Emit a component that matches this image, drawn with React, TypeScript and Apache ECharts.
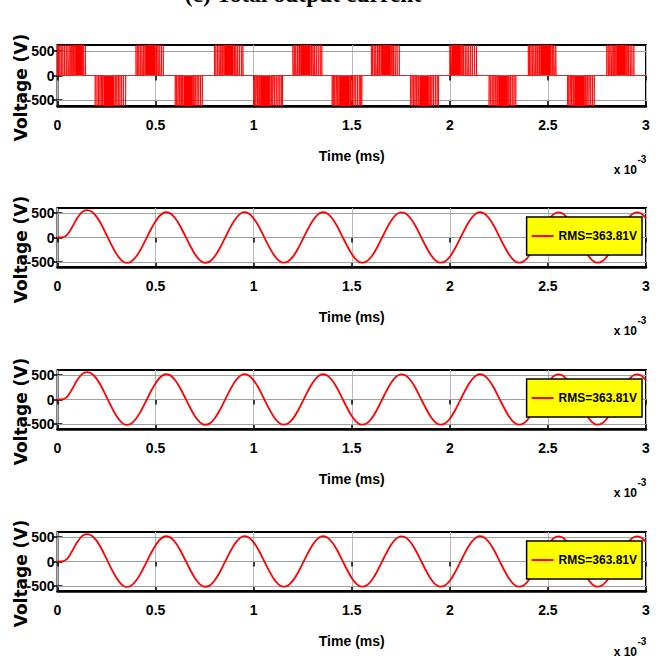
import React, { useEffect, useRef } from "react";
import * as echarts from "echarts";

// ---------- data ----------
const TITLE = "(c) Total output current";
const X_LABEL = "Time (ms)";
const Y_LABEL = "Voltage (V)";
const RMS_LABEL = "RMS=363.81V";
const X_MIN = 0;
const X_MAX = 3;
const X_INTERVAL = 0.5;
const Y_TICK_VALUES = [-500, 0, 500];
const PWM_AMPLITUDE_V = 620;

// positive switching pulses [start, end] in the time unit of the x axis
const POS_PULSES: [number, number][] = [
  [0.0, 0.002], [0.006, 0.007], [0.012, 0.013], [0.019, 0.02], [0.027, 0.028], [0.035, 0.037], [0.044, 0.046], [0.053, 0.056], [0.062, 0.066], [0.071, 0.076], [0.08, 0.086], [0.09, 0.128], [0.133, 0.135], [0.142, 0.144],
  [0.4, 0.401], [0.407, 0.408], [0.414, 0.416], [0.422, 0.424], [0.43, 0.433], [0.438, 0.442], [0.447, 0.498], [0.503, 0.507], [0.512, 0.515], [0.521, 0.523], [0.53, 0.531], [0.539, 0.54],
  [0.8, 0.801], [0.807, 0.808], [0.815, 0.817], [0.823, 0.826], [0.831, 0.835], [0.84, 0.845], [0.85, 0.895], [0.9, 0.904], [0.909, 0.912], [0.918, 0.92], [0.927, 0.928], [0.937, 0.938], [0.945, 0.946],
  [1.2, 1.202], [1.207, 1.209], [1.214, 1.217], [1.222, 1.226], [1.231, 1.236], [1.24, 1.288], [1.293, 1.297], [1.302, 1.305], [1.31, 1.313], [1.319, 1.321], [1.329, 1.33], [1.339, 1.34], [1.347, 1.348],
  [1.6, 1.601], [1.606, 1.608], [1.614, 1.616], [1.622, 1.625], [1.63, 1.635], [1.64, 1.645], [1.65, 1.698], [1.703, 1.707], [1.712, 1.715], [1.721, 1.723], [1.731, 1.732], [1.742, 1.743],
  [2.0, 2.002], [2.005, 2.008], [2.011, 2.055], [2.06, 2.064], [2.069, 2.072], [2.078, 2.081], [2.087, 2.089], [2.096, 2.098], [2.106, 2.107], [2.115, 2.116], [2.126, 2.127], [2.136, 2.137],
  [2.4, 2.401], [2.406, 2.407], [2.413, 2.414], [2.42, 2.422], [2.428, 2.431], [2.436, 2.44], [2.445, 2.449], [2.454, 2.459], [2.463, 2.515], [2.52, 2.524], [2.53, 2.533], [2.54, 2.542],
  [2.8, 2.801], [2.807, 2.809], [2.815, 2.817], [2.822, 2.825], [2.83, 2.834], [2.839, 2.844], [2.849, 2.896], [2.901, 2.905], [2.91, 2.913], [2.919, 2.921], [2.928, 2.929], [2.938, 2.939],
];

// negative switching pulses [start, end]
const NEG_PULSES: [number, number][] = [
  [0.192, 0.193], [0.201, 0.202], [0.209, 0.21], [0.216, 0.218], [0.223, 0.225], [0.229, 0.232], [0.236, 0.288], [0.294, 0.297], [0.302, 0.304], [0.31, 0.311], [0.318, 0.319], [0.327, 0.328], [0.336, 0.337], [0.347, 0.348],
  [0.6, 0.601], [0.607, 0.608], [0.614, 0.616], [0.621, 0.624], [0.628, 0.632], [0.636, 0.64], [0.645, 0.688], [0.693, 0.697], [0.702, 0.705], [0.711, 0.713], [0.72, 0.721], [0.729, 0.73], [0.738, 0.739],
  [1.0, 1.001], [1.005, 1.007], [1.011, 1.014], [1.018, 1.022], [1.026, 1.03], [1.034, 1.083], [1.088, 1.092], [1.097, 1.1], [1.106, 1.108], [1.115, 1.116], [1.124, 1.125], [1.133, 1.134], [1.141, 1.142], [1.147, 1.148],
  [1.4, 1.401], [1.406, 1.408], [1.413, 1.415], [1.42, 1.423], [1.427, 1.431], [1.436, 1.488], [1.493, 1.497], [1.502, 1.505], [1.511, 1.513], [1.52, 1.521], [1.529, 1.53], [1.538, 1.539], [1.545, 1.546], [1.551, 1.552],
  [1.8, 1.801], [1.807, 1.808], [1.815, 1.816], [1.822, 1.824], [1.829, 1.832], [1.837, 1.841], [1.847, 1.893], [1.898, 1.902], [1.908, 1.91], [1.917, 1.918], [1.926, 1.927], [1.935, 1.936], [1.942, 1.943],
  [2.2, 2.201], [2.208, 2.209], [2.216, 2.217], [2.224, 2.226], [2.231, 2.234], [2.239, 2.243], [2.248, 2.294], [2.299, 2.303], [2.309, 2.311], [2.318, 2.319], [2.327, 2.328], [2.336, 2.337],
  [2.6, 2.601], [2.606, 2.608], [2.613, 2.616], [2.62, 2.623], [2.627, 2.631], [2.636, 2.686], [2.691, 2.695], [2.7, 2.703], [2.709, 2.711], [2.718, 2.719], [2.727, 2.728], [2.736, 2.737],
];

// filtered output voltage, sampled every SINE_STEP on the x axis
const SINE_STEP = 0.025;
const SINE_VOLTAGE = [
  0, 3, 60, 215, 390, 515, 555, 525, 420, 255, 55, -150, -330, -460, -516, -492, -392, -236,
  -42, 158, 333, 458, 514, 491, 392, 235, 41, -158, -334, -459, -514, -491, -391, -235,
  -40, 159, 335, 460, 515, 490, 390, 233, 39, -160, -335, -460, -513, -489, -390, -233,
  -39, 160, 335, 460, 514, 490, 391, 234, 40, -159, -334, -459, -513, -490, -391, -234,
  -40, 159, 334, 459, 513, 490, 391, 234, 40, -159, -334, -459, -513, -490, -391, -234,
  -40, 159, 334, 459, 514, 490, 391, 234, 40, -159, -334, -459, -513, -490, -391, -234,
  -40, 159, 334, 459, 513, 490, 391, 234, 40, -159, -334, -459, -513, -490, -391, -234,
  -40, 159, 334, 459, 513, 490, 391,
];

// ---------- layout ----------
const GRIDS = [
  { top: 45, height: 61, yMax: 620 },
  { top: 208, height: 59, yMax: 600 },
  { top: 370, height: 59, yMax: 600 },
  { top: 532, height: 59, yMax: 600 },
];
const GRID_LEFT = 57.5;
const GRID_WIDTH = 588.5;
const SANS = "'Liberation Sans', Arial, sans-serif";
const RED = "#ff0000";

function buildPwm(): [number, number][] {
  const pulses = [
    ...POS_PULSES.map(([s, e]) => ({ s, e, v: PWM_AMPLITUDE_V })),
    ...NEG_PULSES.map(([s, e]) => ({ s, e, v: -PWM_AMPLITUDE_V })),
  ].sort((a, b) => a.s - b.s);
  const pts: [number, number][] = [[X_MIN, 0]];
  for (const p of pulses) {
    pts.push([p.s, 0], [p.s, p.v], [p.e, p.v], [p.e, 0]);
  }
  pts.push([X_MAX, 0]);
  return pts;
}

export default function App() {
  const ref = useRef<HTMLDivElement>(null);
  useEffect(() => {
    if (!ref.current) return;
    const chart = echarts.init(ref.current, undefined, { renderer: "svg" });
    const pwm = buildPwm();
    const sine = SINE_VOLTAGE.map((v, i) => [+(i * SINE_STEP).toFixed(3), v]);

    const grid: any[] = [];
    const xAxis: any[] = [];
    const yAxis: any[] = [];
    const series: any[] = [];
    const graphic: any[] = [];
    const legend: any[] = [];

    GRIDS.forEach((g, i) => {
      grid.push({
        left: GRID_LEFT,
        top: g.top,
        width: GRID_WIDTH,
        height: g.height,
        show: true,
        borderColor: "#000",
        borderWidth: 2,
        backgroundColor: "#fff",
        containLabel: false,
      });
      xAxis.push({
        type: "value",
        gridIndex: i,
        position: "bottom",
        min: X_MIN,
        max: X_MAX,
        interval: X_INTERVAL,
        name: X_LABEL,
        nameLocation: "middle",
        nameGap: 43,
        nameTextStyle: { fontFamily: SANS, fontWeight: "bold", fontSize: 14, color: "#000" },
        axisLine: { show: true, onZero: false, lineStyle: { color: "#000", width: 2.5 } },
        axisTick: { show: true, inside: true, length: 5, lineStyle: { color: "#000", width: 1.5 } },
        axisLabel: { show: true, margin: 12, fontFamily: SANS, fontWeight: "bold", fontSize: 14, color: "#000" },
        splitLine: { show: true, lineStyle: { color: "#b8b8b8", width: 1 } },
      });
      xAxis.push({
        type: "value",
        gridIndex: i,
        position: "top",
        min: X_MIN,
        max: X_MAX,
        interval: X_INTERVAL,
        axisLine: { show: false },
        axisTick: { show: true, inside: true, length: 5, lineStyle: { color: "#000", width: 1.5 } },
        axisLabel: { show: false },
        splitLine: { show: false },
      });
      yAxis.push({
        type: "value",
        gridIndex: i,
        position: "left",
        min: -g.yMax,
        max: g.yMax,
        axisLine: { show: false },
        axisTick: { show: true, inside: true, length: 5, customValues: Y_TICK_VALUES, lineStyle: { color: "#000", width: 1.5 } },
        axisLabel: { show: true, margin: 3, customValues: Y_TICK_VALUES, fontFamily: SANS, fontWeight: "bold", fontSize: 14, color: "#000" },
        splitLine: { show: false },
      });
      yAxis.push({
        type: "value",
        gridIndex: i,
        position: "right",
        min: -g.yMax,
        max: g.yMax,
        axisLine: { show: false },
        axisTick: { show: true, inside: true, length: 5, customValues: Y_TICK_VALUES, lineStyle: { color: "#000", width: 1.5 } },
        axisLabel: { show: false },
        splitLine: { show: false },
      });

      // horizontal grid lines at the tick values
      series.push({
        type: "line",
        xAxisIndex: i * 2,
        yAxisIndex: i * 2,
        data: [],
        z: 1,
        silent: true,
        markLine: {
          z: 1,
          silent: true,
          symbol: ["none", "none"],
          label: { show: false },
          lineStyle: { color: "#a0a0a0", type: "solid", width: 1 },
          data: Y_TICK_VALUES.map((v) => ({ yAxis: v })),
        },
      });

      if (i === 0) {
        series.push({
          type: "line",
          name: "Inverter voltage",
          xAxisIndex: 0,
          yAxisIndex: 0,
          data: pwm,
          showSymbol: false,
          z: 3,
          lineStyle: { color: RED, width: 0.8 },
          itemStyle: { color: RED },
          areaStyle: { color: RED, opacity: 1, origin: "auto" },
        });
      } else {
        series.push({
          type: "line",
          name: RMS_LABEL,
          xAxisIndex: i * 2,
          yAxisIndex: i * 2,
          data: sine,
          showSymbol: false,
          smooth: 0.3,
          z: 3,
          lineStyle: { color: RED, width: 1.8 },
          itemStyle: { color: RED },
        });
        legend.push({
          data: [RMS_LABEL],
          right: 17,
          top: g.top + 9,
          z: 10,
          orient: "horizontal",
          backgroundColor: "#ffff00",
          borderColor: "#000",
          borderWidth: 1.5,
          borderRadius: 0,
          padding: [11, 5, 11, 5],
          icon: "rect",
          itemWidth: 22,
          itemHeight: 2,
          selectedMode: false,
          textStyle: { fontFamily: SANS, fontWeight: "bold", fontSize: 12, color: "#000", lineHeight: 16 },
        });
      }

      const cy = g.top + g.height / 2;
      const bottom = g.top + g.height;
      graphic.push({
        type: "text",
        x: 21,
        y: cy + 12,
        rotation: Math.PI / 2,
        style: { text: Y_LABEL, font: "bold 17px 'DejaVu Sans'", fill: "#000", align: "center", verticalAlign: "middle" },
      });
      graphic.push({
        type: "text",
        x: 637,
        y: Math.min(bottom + 64, 652),
        style: { text: "x 10", font: `bold 12px ${SANS}`, fill: "#000", align: "right", verticalAlign: "middle" },
      });
      graphic.push({
        type: "text",
        x: 637.5,
        y: Math.min(bottom + 53, 641),
        style: { text: "-3", font: `bold 10px ${SANS}`, fill: "#000", align: "left", verticalAlign: "middle" },
      });
    });

    graphic.push({
      type: "text",
      x: 303,
      y: 6,
      style: { text: TITLE, font: "bold 23.5px 'Liberation Serif'", fill: "#000", align: "center", verticalAlign: "bottom" },
    });

    chart.setOption({
      animation: false,
      backgroundColor: "#fff",
      grid,
      xAxis,
      yAxis,
      series,
      legend,
      graphic,
    });
    return () => chart.dispose();
  }, []);
  return <div ref={ref} style={{ position: "absolute", left: 0, top: 0, width: 659, height: 660, background: "#fff" }} />;
}
